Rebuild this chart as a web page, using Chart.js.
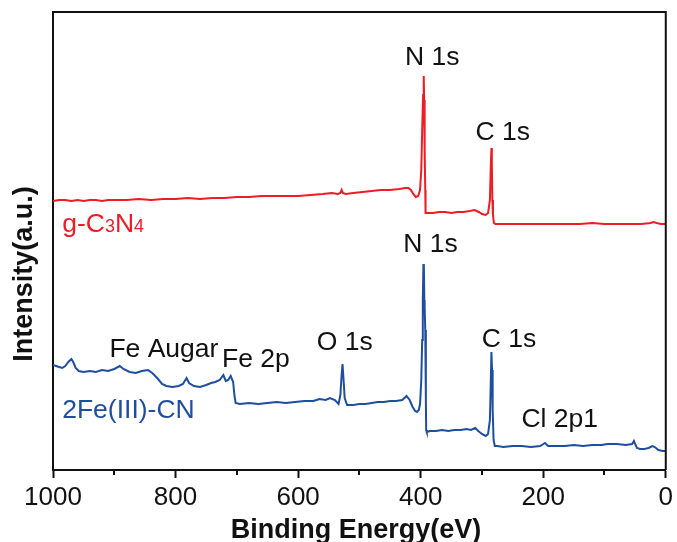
<!DOCTYPE html>
<html>
<head>
<meta charset="utf-8">
<script src="https://cdn.jsdelivr.net/npm/chart.js@4/dist/chart.umd.min.js"></script>
<style>
  html, body { margin: 0; padding: 0; background: #fff; }
  canvas { display: block; }
</style>
</head>
<body>
<canvas id="xps-chart" width="677" height="542"></canvas>
<script>
// g-C3N4 survey spectrum (binding energy eV, intensity a.u.)
const redEnergy = [
  1000, 990, 980, 970, 960, 950, 940, 930, 920, 910, 900, 880, 860, 840, 820, 800,
  780, 760, 740, 720, 700, 680, 660, 640, 620, 600, 580, 560, 545, 535, 531, 529,
  527, 522, 510, 495, 480, 465, 450, 435, 425, 420, 416, 412, 408, 404, 401, 399,
  397.5, 396, 395, 394.3, 394, 393.5, 393, 392.5, 392, 390, 380, 370, 360, 350, 340,
  330, 320, 312, 305, 300, 294, 290, 287, 285.5, 284.5, 283.8, 283, 282, 280.5, 278,
  260, 240, 220, 200, 180, 160, 140, 120, 100, 80, 60, 40, 25, 20, 15, 8, 0
];
const redIntensity = [
  269, 270, 270, 269, 270, 269, 270, 270, 269, 270, 270, 270, 271, 270, 271, 271,
  272, 271, 272, 272, 273, 273, 274, 274, 274, 274, 275, 276, 277, 276, 277, 280,
  277, 276, 277, 278, 279, 280, 280, 281, 282, 282, 280, 276, 273, 274, 280, 300,
  340, 375, 394, 370, 352, 350, 320, 280, 257, 257, 257, 258, 258, 257, 258,
  258, 259, 260, 258, 256, 255, 257, 270, 305, 322, 305, 270, 255, 247, 246,
  246, 246, 246, 246, 246, 246, 246, 247, 246, 246, 246, 246, 247, 248, 247, 246, 246
];

// 2Fe(III)-CN survey spectrum
const blueEnergy = [
  1000, 995, 990, 985, 980, 975, 970, 967, 963, 958, 950, 940, 930, 920, 910, 900,
  891, 885, 875, 865, 855, 845, 838, 830, 822, 815, 805, 795, 788, 782, 778, 770,
  760, 750, 742, 735, 728, 722, 718, 714, 710, 706, 704, 702, 695, 680, 665, 650,
  635, 620, 605, 590, 575, 565, 555, 548, 540, 534, 531, 529, 527.5, 526, 524, 520,
  510, 500, 490, 480, 470, 460, 450, 440, 430, 423, 418, 413, 409, 406, 403, 401,
  399, 397.5, 396.5, 395.5, 394.8, 394, 393.5, 392.5, 391.5, 391, 390, 385, 375, 365,
  355, 345, 335, 325, 318, 311, 306, 300, 294, 290, 287, 285.5, 284.5, 283.5, 282.5,
  281, 279, 275, 265, 250, 235, 220, 205, 197, 192, 180, 165, 150, 135, 120, 105,
  95, 80, 65, 55, 52, 50, 47, 42, 35, 28, 22, 18, 12, 5, 0
];
const blueIntensity = [
  105, 104, 103, 102, 104, 108, 111, 108, 102, 99, 98, 99, 98, 100, 99, 101,
  104, 101, 98, 97, 99, 100, 97, 92, 86, 84, 83, 84, 86, 92, 87, 84,
  83, 85, 87, 88, 90, 95, 89, 90, 94, 88, 75, 67, 66, 67, 66, 67,
  68, 67, 68, 69, 69, 71, 70, 72, 70, 66, 75, 95, 106, 92, 72, 65,
  65, 66, 66, 67, 68, 68, 69, 69, 70, 74, 70, 63, 59, 58, 60, 66,
  90, 130, 170, 205, 206, 170, 163, 140, 70, 40, 38, 39, 39, 40,
  39, 40, 40, 41, 40, 42, 39, 36, 34, 36, 50, 90, 118, 100, 60,
  30, 24, 24, 23, 24, 24, 23, 24, 27, 24, 24, 24, 25, 24, 25, 25,
  26, 26, 25, 26, 29, 26, 22, 21, 21, 22, 24, 23, 20, 19, 19
];

const xTicksMajor = [1000, 800, 600, 400, 200, 0];
const xTicksMinor = [900, 700, 500, 300, 100];

const RED = "#ee1c24";
const BLUE = "#1f4e9f";
const INK = "#111111";
const FONT = "'Liberation Sans', Arial, sans-serif";

// peak labels, anchored in data coordinates (eV, a.u.)
const peakLabels = [
  { text: "N 1s", eV: 381, au: 405 },
  { text: "C 1s", eV: 266, au: 330 },
  { text: "N 1s", eV: 384, au: 218 },
  { text: "C 1s", eV: 256, au: 123 },
  { text: "O 1s", eV: 524, au: 120 },
  { text: "Fe 2p", eV: 669, au: 103 },
  { text: "Fe Augar", eV: 819, au: 113 },
  { text: "Cl 2p1", eV: 173, au: 43 }
];

function toPoints(xs, ys) {
  return xs.map((x, i) => ({ x, y: ys[i] }));
}

const decorPlugin = {
  id: "decor",
  afterDraw(chart) {
    const { ctx, chartArea, scales } = chart;
    const x = scales.x;
    const y = scales.y;
    ctx.save();

    // top and right frame lines
    ctx.strokeStyle = INK;
    ctx.lineWidth = 2;
    ctx.beginPath();
    ctx.moveTo(chartArea.left, chartArea.top);
    ctx.lineTo(chartArea.right, chartArea.top);
    ctx.lineTo(chartArea.right, chartArea.bottom);
    ctx.stroke();

    // minor ticks
    ctx.beginPath();
    xTicksMinor.forEach((v) => {
      const px = Math.round(x.getPixelForValue(v));
      ctx.moveTo(px, chartArea.bottom);
      ctx.lineTo(px, chartArea.bottom + 5);
    });
    ctx.stroke();

    // peak labels
    ctx.fillStyle = INK;
    ctx.font = `26.5px ${FONT}`;
    ctx.textAlign = "center";
    ctx.textBaseline = "alphabetic";
    peakLabels.forEach((lbl) => {
      ctx.fillText(lbl.text, x.getPixelForValue(lbl.eV), y.getPixelForValue(lbl.au));
    });

    // sample names
    ctx.textAlign = "left";
    let cx = x.getPixelForValue(985);
    const by = y.getPixelForValue(238);
    ctx.fillStyle = RED;
    [["g-C", 26.5], ["3", 18], ["N", 26.5], ["4", 18]].forEach(([t, size]) => {
      ctx.font = `${size}px ${FONT}`;
      ctx.fillText(t, cx, by);
      cx += ctx.measureText(t).width;
    });
    ctx.fillStyle = BLUE;
    ctx.font = `26.5px ${FONT}`;
    ctx.fillText("2Fe(III)-CN", x.getPixelForValue(985), y.getPixelForValue(52));

    // x axis title
    ctx.fillStyle = INK;
    ctx.font = `bold 27px ${FONT}`;
    ctx.textAlign = "center";
    ctx.fillText("Binding Energy(eV)", 356, 538);

    // y axis title
    ctx.textBaseline = "middle";
    ctx.translate(25, 274);
    ctx.rotate(-Math.PI / 2);
    ctx.fillText("Intensity(a.u.)", 0, 0);
    ctx.restore();
  }
};

new Chart(document.getElementById("xps-chart"), {
  type: "scatter",
  data: {
    datasets: [
      {
        label: "g-C3N4",
        data: toPoints(redEnergy, redIntensity),
        showLine: true,
        borderColor: RED,
        borderWidth: 2,
        pointRadius: 0,
        tension: 0
      },
      {
        label: "2Fe(III)-CN",
        data: toPoints(blueEnergy, blueIntensity),
        showLine: true,
        borderColor: BLUE,
        borderWidth: 2,
        pointRadius: 0,
        tension: 0
      }
    ]
  },
  options: {
    responsive: false,
    animation: false,
    devicePixelRatio: 1,
    layout: { padding: { top: 12, right: 9, left: 0, bottom: 0 } },
    plugins: {
      legend: { display: false },
      tooltip: { enabled: false }
    },
    scales: {
      x: {
        type: "linear",
        reverse: true,
        min: 0,
        max: 1000,
        afterFit(scale) { scale.height = 72; },
        afterBuildTicks(scale) { scale.ticks = xTicksMajor.map((v) => ({ value: v })); },
        border: { display: true, color: INK, width: 2 },
        grid: { drawOnChartArea: false, drawTicks: true, tickLength: 8, tickColor: INK, tickWidth: 2 },
        ticks: {
          color: INK,
          font: { family: FONT, size: 26 },
          padding: 4,
          maxRotation: 0,
          callback: (value) => String(value)
        }
      },
      y: {
        min: 0,
        max: 458,
        afterFit(scale) { scale.width = 53; },
        border: { display: true, color: INK, width: 2 },
        grid: { display: false },
        ticks: { display: false }
      }
    }
  },
  plugins: [decorPlugin]
});
</script>
</body>
</html>
